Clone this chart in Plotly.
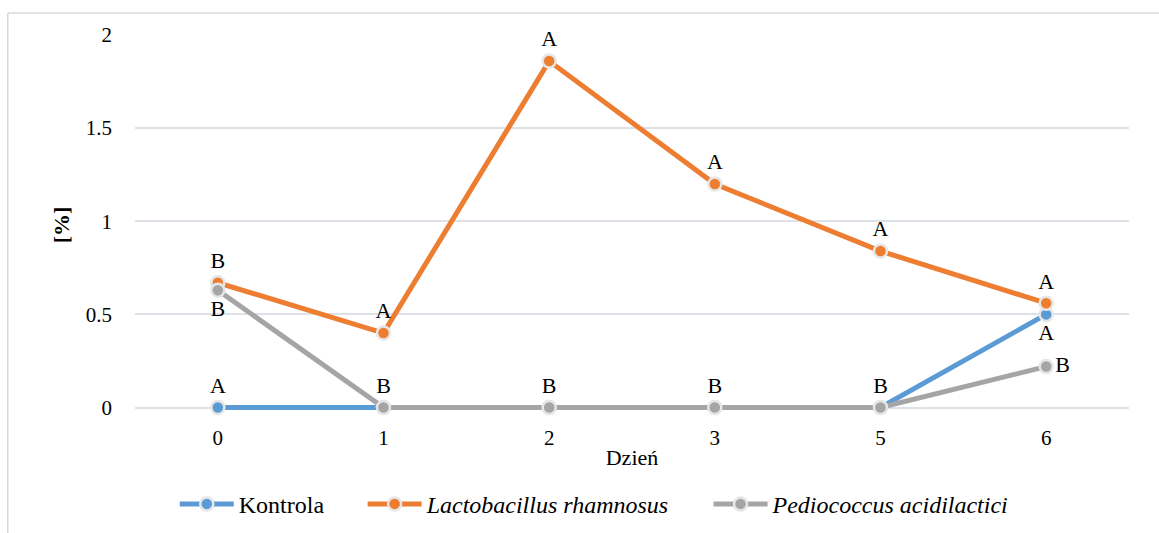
import plotly.graph_objects as go

# Day categories and percentage values per culture
days = ["0", "1", "2", "3", "5", "6"]
kontrola = [0, 0, 0, 0, 0, 0.50]
lactobacillus = [0.67, 0.40, 1.86, 1.20, 0.84, 0.56]
pediococcus = [0.63, 0, 0, 0, 0, 0.22]

# Significance letters per point
kontrola_lbl = ["A", "", "", "", "", "A"]
lactobacillus_lbl = ["B", "A", "A", "A", "A", "A"]
pediococcus_lbl = ["B", "B", "B", "B", "B", "B"]

kontrola_pos = ["top center"] * 5 + ["bottom center"]
lactobacillus_pos = ["top center"] * 6
pediococcus_pos = ["bottom center"] + ["top center"] * 4 + ["middle right"]

FONT = "Times New Roman"

# name, values, letters, letter positions, colour, legend id, legend x
series = [
    ("Kontrola", kontrola, kontrola_lbl, kontrola_pos, "#5B9BD5", "legend", 0.040),
    ("<i>Lactobacillus rhamnosus</i>", lactobacillus, lactobacillus_lbl, lactobacillus_pos,
     "#ED7D31", "legend2", 0.229),
    ("<i>Pediococcus acidilactici</i>", pediococcus, pediococcus_lbl, pediococcus_pos,
     "#A5A5A5", "legend3", 0.577),
]

fig = go.Figure()
legends = {}
for name, vals, lbl, pos, color, leg, lx in series:
    fig.add_trace(go.Scatter(
        x=days, y=vals, name=name, legend=leg,
        mode="lines+markers+text",
        text=lbl, textposition=pos,
        textfont=dict(family=FONT, size=22, color="#000000"),
        line=dict(color=color, width=5),
        marker=dict(size=13, color=color, line=dict(color="#E6E6E6", width=2.5)),
        cliponaxis=False,
    ))
    legends[leg] = dict(orientation="h", x=lx, xanchor="left", y=-0.235, yanchor="middle",
                        font=dict(family=FONT, size=24), itemwidth=54,
                        bgcolor="rgba(0,0,0,0)")

# Chart frame: top and left edges only
frame = dict(type="line", xref="paper", yref="paper",
             line=dict(color="#D9D9D9", width=1.5), layer="below")

fig.update_layout(
    width=1159, height=533,
    margin=dict(l=135, r=30, t=35, b=117.5, autoexpand=False),
    paper_bgcolor="white", plot_bgcolor="white",
    font=dict(family=FONT, size=21, color="#000000"),
    showlegend=True,
    shapes=[
        dict(frame, x0=-0.128, x1=1.05, y0=1.058, y1=1.058),
        dict(frame, x0=-0.128, x1=-0.128, y0=-0.5, y1=1.058),
    ],
    **legends,
)

fig.update_xaxes(
    type="category", range=[-0.5, 5.5], showgrid=False, showline=False, zeroline=False,
    ticks="", automargin=False, ticklabelstandoff=8,
    tickfont=dict(family=FONT, size=21),
    title=dict(text="Dzień", font=dict(family=FONT, size=22), standoff=0),
)
fig.update_yaxes(
    range=[-0.04, 2], tickvals=[0, 0.5, 1, 1.5, 2], ticktext=["0", "0.5", "1", "1.5", "2"],
    showgrid=True, gridcolor="#DEE2E8", gridwidth=1.5, zeroline=False, showline=False,
    ticks="", ticklabelstandoff=22, automargin=False,
    tickfont=dict(family=FONT, size=21),
    title=dict(text="<b>[%]</b>", font=dict(family=FONT, size=22), standoff=10),
)

fig.write_html("out.html")
